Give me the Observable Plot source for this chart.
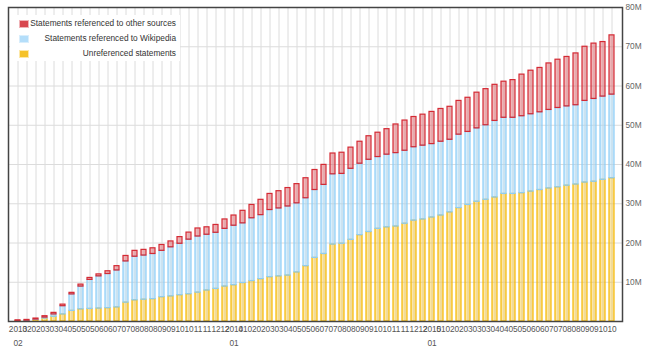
<!DOCTYPE html>
<html><head><meta charset="utf-8">
<script src="https://cdn.jsdelivr.net/npm/d3@7"></script>
<script src="https://cdn.jsdelivr.net/npm/@observablehq/plot@0.6"></script>
<style>
body{margin:0;background:#fff;font-family:"Liberation Sans",Arial,sans-serif}
#wrap{position:relative;width:648px;height:356px}
#legend{position:absolute;left:10px;top:15px;width:170px;height:46px;background:#fff;font-size:8.3px;color:#333}
.row{position:absolute;left:0;width:166px;height:10px}
.sw{position:absolute;left:9px;top:1px;width:8px;height:6px;border:1px solid}
.lab{position:absolute;right:0;top:0;white-space:nowrap;line-height:9px}
</style></head>
<body>
<div id="wrap"><div id="chart"></div><div id="legend"></div></div>
<script>
// Tick labels (one per bar): first row and second row
const monthLabels = ["2013","02","02","03","03","04","05","05","05","06","06","07","07","08","08","08","09","09","10","10","11","11","12","12",
  "2014","01","02","02","03","03","04","05","05","06","07","07","08","08","09","09","10","10","11","11","12","12",
  "2015","01","02","02","03","03","03","04","04","05","05","06","06","07","07","08","08","09","09","10","10"];
const subLabels = {0: "02", 24: "01", 46: "01"};

// Series values (millions of statements)
const unreferenced = [0.1,0.15,0.4,0.75,1.2,1.8,2.7,3.1,3.2,3.3,3.4,3.6,
  4.8,5.4,5.55,5.7,6.2,6.4,6.7,6.95,7.35,7.9,8.3,8.9,
  9.25,9.8,10.3,10.8,11.3,11.5,11.7,12.5,14.1,16.2,17.2,19.6,
  19.8,20.8,22.0,22.8,23.6,24.0,24.2,24.9,25.7,26.0,26.5,27.0,
  27.8,28.9,29.7,30.5,31.0,31.6,32.5,32.5,32.7,33.1,33.5,33.9,
  34.2,34.6,34.9,35.4,35.6,36.1,36.5];
const refWikipedia = [0.0,0.05,0.1,0.25,0.6,2.1,4.2,5.8,7.4,8.2,8.7,9.4,
  10.5,11.1,11.25,11.5,11.8,12.5,13.1,13.9,14.3,14.2,14.3,14.7,
  15.15,15.2,16.0,16.3,17.1,17.3,17.6,17.6,17.3,17.3,17.6,17.9,
  17.8,18.1,18.2,18.4,18.3,18.5,18.7,18.6,18.7,18.8,18.7,18.8,
  18.5,18.7,18.6,18.7,19.0,19.5,19.4,19.4,19.6,19.7,19.8,20.0,
  20.2,20.2,20.2,20.8,21.1,21.2,21.3];
const refOther = [0.2,0.2,0.25,0.35,0.4,0.4,0.4,0.5,0.5,0.5,0.7,1.1,
  1.4,1.5,1.45,1.45,1.5,1.5,1.7,1.8,2.05,1.9,2.0,2.4,
  2.6,3.2,3.4,3.9,4.1,4.4,4.7,4.9,5.1,5.1,5.1,5.3,
  5.4,5.4,5.6,6.0,6.2,6.5,7.3,7.7,7.7,7.9,8.2,8.35,
  8.4,8.6,8.7,9.1,9.2,9.2,9.2,9.6,10.6,11.1,11.3,11.85,
  12.3,12.6,13.2,13.8,14.1,13.9,15.1];

const seriesNames = ["Unreferenced statements","Statements referenced to Wikipedia","Statements referenced to other sources"];
const seriesColors = ["#f5b800","#8ccdf7","#d42a34"];
const yTicks = [10,20,30,40,50,60,70,80];

const idx = d3.range(monthLabels.length);
const rows = [];
idx.forEach(i => {
  rows.push({i, series: seriesNames[0], value: unreferenced[i]});
  rows.push({i, series: seriesNames[1], value: refWikipedia[i]});
  rows.push({i, series: seriesNames[2], value: refOther[i]});
});
const subRows = Object.entries(subLabels).map(([k, v]) => ({i: +k, t: v}));

const chart = Plot.plot({
  width: 648, height: 356,
  marginLeft: 8, marginRight: 26, marginTop: 7, marginBottom: 35,
  style: {fontFamily: '"Liberation Sans", Arial, sans-serif', fontSize: "8.3px", background: "#fff", color: "#666"},
  x: {type: "band", domain: idx, paddingInner: 0.4, paddingOuter: 0.14, axis: null},
  y: {domain: [0, 80], axis: "right", ticks: yTicks, tickFormat: d => d + "M", tickSize: 0, tickPadding: 3, label: null, grid: false},
  color: {domain: seriesNames, range: seriesColors},
  marks: [
    Plot.ruleX(idx, {x: d => d, stroke: "#dcdcdc", strokeWidth: 1}),
    Plot.ruleY(yTicks, {y: d => d, stroke: "#dcdcdc", strokeWidth: 1}),
    Plot.barY(rows, {x: "i", y: "value", z: "series", fill: "series", stroke: "series", fillOpacity: 0.35, strokeWidth: 1.2}),
    Plot.frame({stroke: "#444", strokeWidth: 1.5}),
    Plot.text(idx, {x: d => d, text: d => monthLabels[d], frameAnchor: "bottom", dy: 10, fill: "#555"}),
    Plot.text(subRows, {x: "i", text: "t", frameAnchor: "bottom", dy: 24.5, fill: "#555"})
  ]
});
document.getElementById("chart").appendChild(chart);

// Legend (overlay in top-left of plot area)
const legend = document.getElementById("legend");
const legendOrder = [2, 1, 0];
const fills = ["#f5c22a", "#b4defa", "#d8474f"];
const borders = ["#fde8a8", "#d9eefc", "#f0b4b8"];
legendOrder.forEach((s, r) => {
  const row = document.createElement("div");
  row.className = "row";
  row.style.top = (4 + r * 15) + "px";
  const sw = document.createElement("div");
  sw.className = "sw";
  sw.style.background = fills[s];
  sw.style.borderColor = borders[s];
  const lab = document.createElement("div");
  lab.className = "lab";
  lab.textContent = seriesNames[s];
  row.appendChild(sw); row.appendChild(lab);
  legend.appendChild(row);
});
</script>
</body></html>
